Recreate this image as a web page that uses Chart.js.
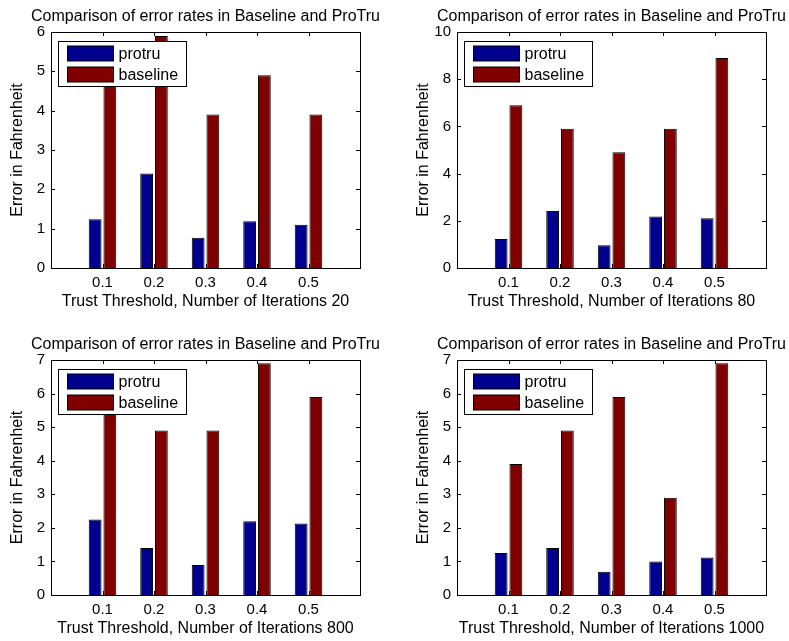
<!DOCTYPE html>
<html>
<head>
<meta charset="utf-8">
<script src="https://cdn.jsdelivr.net/npm/chart.js@4.4.0/dist/chart.umd.min.js"></script>
<style>
  html, body { margin: 0; padding: 0; background: #fff; overflow: hidden; }
  body { width: 789px; height: 641px; position: relative; }
  canvas { position: absolute; }
</style>
</head>
<body>
<canvas id="c0"></canvas>
<canvas id="c1"></canvas>
<canvas id="c2"></canvas>
<canvas id="c3"></canvas>
<script>
// data
const thresholds = ['0.1', '0.2', '0.3', '0.4', '0.5'];
const seriesNames = ['protru', 'baseline'];
const iterations = [20, 80, 800, 1000];

const protru20 = [1.24, 2.40, 0.77, 1.19, 1.10];
const baseline20 = [4.9, 5.9, 3.9, 4.9, 3.9];
const protru80 = [1.23, 2.41, 0.96, 2.18, 2.11];
const baseline80 = [6.9, 5.9, 4.9, 5.9, 8.9];
const protru800 = [2.25, 1.40, 0.89, 2.20, 2.13];
const baseline800 = [5.9, 4.9, 4.9, 6.9, 5.9];
const protru1000 = [1.25, 1.40, 0.69, 1.00, 1.12];
const baseline1000 = [3.9, 4.9, 5.9, 2.9, 6.9];

const yMax = [6, 10, 7, 7];
const yStep = [1, 2, 1, 1];

const protruAll = [protru20, protru80, protru800, protru1000];
const baselineAll = [baseline20, baseline80, baseline800, baseline1000];

// canvas boxes on the page (left, top, width, height, space above plot, x axis height)
const boxes = [
    { left: 0, top: 0, width: 400, height: 318, padTop: 32, xh: 50 },
    { left: 406, top: 0, width: 383, height: 318, padTop: 32, xh: 50 },
    { left: 0, top: 318, width: 400, height: 323, padTop: 42, xh: 46 },
    { left: 406, top: 318, width: 383, height: 323, padTop: 42, xh: 46 }
];

const FONT = 'Liberation Sans';
const LABEL_SIZE = 16;
Chart.defaults.font.family = FONT;
Chart.defaults.font.size = 15;
Chart.defaults.color = '#000';

const matlabAxes = {
    id: 'matlabAxes',
    afterDraw(chart, args, opts) {
        const ctx = chart.ctx;
        const a = chart.chartArea;
        const xs = chart.scales.x, ys = chart.scales.y;
        ctx.save();
        ctx.strokeStyle = '#000';
        ctx.lineWidth = 1;

        // inward tick marks on all four sides
        ctx.beginPath();
        xs.ticks.forEach(t => {
            if (t.label === '') return;
            const px = Math.round(xs.getPixelForValue(t.value)) + 0.5;
            ctx.moveTo(px, a.bottom); ctx.lineTo(px, a.bottom - 4);
            ctx.moveTo(px, a.top); ctx.lineTo(px, a.top + 4);
        });
        ys.ticks.forEach(t => {
            const py = Math.round(ys.getPixelForValue(t.value)) + 0.5;
            ctx.moveTo(a.left, py); ctx.lineTo(a.left + 4, py);
            ctx.moveTo(a.right, py); ctx.lineTo(a.right - 4, py);
        });
        ctx.stroke();

        // box
        const l = Math.round(a.left) + 0.5, t = Math.round(a.top) + 0.5;
        const r = Math.round(a.right) + 0.5, b = Math.round(a.bottom) + 0.5;
        ctx.strokeRect(l, t, r - l, b - t);

        // title above the axes
        ctx.font = LABEL_SIZE + 'px "' + FONT + '"';
        ctx.fillStyle = '#000';
        ctx.textAlign = 'center';
        ctx.textBaseline = 'middle';
        ctx.fillText(opts.title, (a.left + a.right) / 2, a.top - 15);

        // legend box, top left inside the axes
        const sets = chart.data.datasets;
        ctx.textAlign = 'left';
        const tw = Math.max(...sets.map(d => ctx.measureText(d.label).width));
        const bx = l + 7, by = t + 9;
        const bw = Math.round(60 + tw + 8), bh = 45;
        ctx.fillStyle = '#fff';
        ctx.fillRect(bx, by, bw, bh);
        ctx.strokeRect(bx, by, bw, bh);
        sets.forEach((d, i) => {
            const cy = by + 12 + i * 21;
            ctx.fillStyle = d.backgroundColor;
            ctx.fillRect(bx + 9, Math.round(cy - 7.5), 46, 15);
            ctx.strokeRect(bx + 9, Math.round(cy - 7.5), 46, 15);
            ctx.fillStyle = '#000';
            ctx.fillText(d.label, bx + 60, cy + 1);
        });
        ctx.restore();
    }
};

function toPoints(vals) {
    return vals.map((v, i) => ({ x: i + 1, y: v }));
}

boxes.forEach((bx, k) => {
    const cv = document.getElementById('c' + k);
    cv.width = bx.width;
    cv.height = bx.height;
    cv.style.left = bx.left + 'px';
    cv.style.top = bx.top + 'px';

    new Chart(cv.getContext('2d'), {
        type: 'bar',
        data: {
            datasets: [{
                label: seriesNames[0],
                data: toPoints(protruAll[k]),
                backgroundColor: '#00008f',
                borderColor: '#000',
                borderWidth: 1,
                categoryPercentage: 0.5714,
                barPercentage: 0.87
            }, {
                label: seriesNames[1],
                data: toPoints(baselineAll[k]),
                backgroundColor: '#800000',
                borderColor: '#000',
                borderWidth: 1,
                categoryPercentage: 0.5714,
                barPercentage: 0.87
            }]
        },
        options: {
            responsive: false,
            animation: false,
            layout: {
                padding: { left: 0, top: bx.padTop, right: bx.width - 360, bottom: 0 }
            },
            scales: {
                x: {
                    type: 'linear',
                    min: 0,
                    max: 6,
                    offset: false,
                    grid: { display: false, drawTicks: false },
                    border: { display: false },
                    ticks: {
                        stepSize: 1,
                        padding: 6,
                        autoSkip: false,
                        maxRotation: 0,
                        callback: v => thresholds[v - 1] || ''
                    },
                    title: {
                        display: true,
                        text: 'Trust Threshold, Number of Iterations ' + iterations[k],
                        font: { size: LABEL_SIZE },
                        padding: { top: 0, bottom: bx.xh - 34 - 9.6 }
                    },
                    afterFit: s => { s.height = bx.xh; }
                },
                y: {
                    min: 0,
                    max: yMax[k],
                    grid: { display: false, drawTicks: false },
                    border: { display: false },
                    ticks: { stepSize: yStep[k], padding: 6 },
                    title: {
                        display: true,
                        text: 'Error in Fahrenheit',
                        font: { size: LABEL_SIZE },
                        padding: { top: 8.4, bottom: 0 }
                    },
                    afterFit: s => { s.width = 51; }
                }
            },
            plugins: {
                legend: { display: false },
                tooltip: { enabled: false },
                matlabAxes: { title: 'Comparison of error rates in Baseline and ProTru' }
            }
        },
        plugins: [matlabAxes]
    });
});
</script>
</body>
</html>
